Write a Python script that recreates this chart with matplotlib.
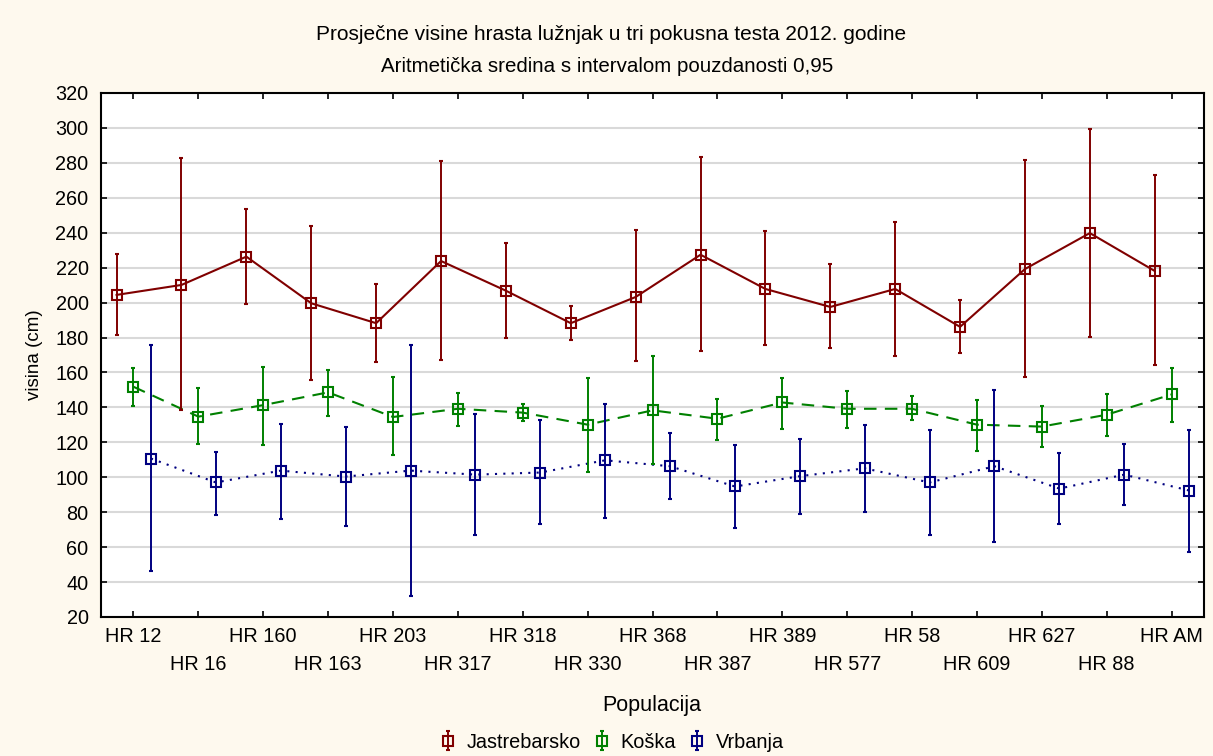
import matplotlib
matplotlib.use("Agg")
import matplotlib.pyplot as plt
import numpy as np

categories = ["HR 12", "HR 16", "HR 160", "HR 163", "HR 203", "HR 317", "HR 318", "HR 330",
              "HR 368", "HR 387", "HR 389", "HR 577", "HR 58", "HR 609", "HR 627", "HR 88", "HR AM"]

jas_mean = [204.4, 210.1, 226.3, 199.6, 188.2, 223.8, 206.8, 188.2, 203.2, 227.4, 207.8, 197.5, 207.8, 186.1, 219.2, 239.8, 218.1]
jas_hi   = [227.6, 282.7, 253.5, 244.0, 210.7, 281.1, 234.1, 198.3, 241.5, 283.2, 240.8, 222.3, 246.1, 201.7, 281.7, 299.6, 273.0]
jas_lo   = [181.5, 138.7, 199.0, 155.4, 166.0, 167.0, 179.6, 178.3, 166.3, 172.0, 176.0, 173.9, 169.7, 171.4, 157.5, 180.2, 164.0]

kos_mean = [151.8, 134.7, 141.3, 148.6, 134.5, 139.2, 137.0, 130.1, 138.3, 133.5, 142.8, 139.2, 139.2, 130.1, 129.0, 135.8, 147.4]
kos_hi   = [162.5, 151.0, 163.2, 161.3, 157.5, 148.4, 141.9, 156.8, 169.7, 144.6, 157.1, 149.5, 146.3, 144.0, 140.8, 147.8, 162.3]
kos_lo   = [141.0, 119.2, 118.7, 134.8, 112.6, 129.3, 132.4, 102.8, 107.4, 121.5, 127.8, 128.0, 132.6, 115.0, 117.1, 123.6, 131.4]

vrb_mean = [110.7, 97.0, 103.8, 100.4, 103.8, 101.5, 102.7, 109.7, 106.3, 94.7, 100.6, 105.1, 97.0, 106.3, 93.5, 101.5, 92.4]
vrb_hi   = [175.8, 114.5, 130.7, 128.9, 175.8, 136.4, 132.8, 141.9, 125.3, 118.3, 121.7, 129.7, 127.0, 149.7, 113.7, 118.9, 126.8]
vrb_lo   = [46.3, 78.5, 76.0, 72.0, 31.8, 66.8, 73.3, 76.8, 87.4, 71.0, 79.2, 80.0, 67.0, 62.8, 73.1, 84.2, 57.1]

series = [
    ("Jastrebarsko", jas_mean, jas_lo, jas_hi, "#800000", "-", -0.26),
    ("Koška", kos_mean, kos_lo, kos_hi, "#008000", (0, (6, 4)), 0.0),
    ("Vrbanja", vrb_mean, vrb_lo, vrb_hi, "#000080", (0, (1, 3)), 0.27),
]

plt.rcParams["font.family"] = ["Liberation Sans", "DejaVu Sans"]

bg = "#FEF9EE"
fig = plt.figure(figsize=(12.13, 7.56), dpi=100, facecolor=bg)
ax = fig.add_axes([0.0833, 0.1839, 0.9093, 0.6931])
ax.set_facecolor("white")

x = np.arange(len(categories))
for name, m, lo, hi, col, ls, off in series:
    m = np.array(m); lo = np.array(lo); hi = np.array(hi)
    ax.errorbar(x + off, m, yerr=[m - lo, hi - m], fmt="s", color=col,
                ecolor=col, elinewidth=1.4, capsize=1.6, capthick=1.2,
                markersize=6.5, markerfacecolor="none", markeredgewidth=1.5,
                label=name, zorder=3)
    ax.plot(x + off, m, color=col, linestyle=ls, linewidth=1.5, zorder=2)

ax.set_xlim(-0.5, 16.5)
ax.set_ylim(20, 320)
ax.set_yticks(np.arange(20, 321, 20))
ax.yaxis.grid(True, color="#d9d9d9", linewidth=1.5)
ax.set_axisbelow(True)
ax.set_xticks(x)
labels = [c if i % 2 == 0 else "\n" + c for i, c in enumerate(categories)]
ax.set_xticklabels(labels, fontsize=14.3, linespacing=1.62)
for t in ax.get_yticklabels():
    t.set_fontsize(14.3)
ax.tick_params(direction="in", top=True, right=True, length=4, width=1.2, color="black")
ax.tick_params(axis="x", pad=7)
ax.tick_params(axis="y", pad=9)
for s in ax.spines.values():
    s.set_linewidth(1.5)
    s.set_color("black")

ax.set_ylabel("visina (cm)", fontsize=13.5, labelpad=9)
fig.text(652 / 1213, 1 - 705 / 756, "Populacija", ha="center", va="center", fontsize=15.5)
fig.text(611 / 1213, 1 - 35 / 756, "Prosječne visine hrasta lužnjak u tri pokusna testa 2012. godine",
         ha="center", va="center", fontsize=15)
fig.text(607.5 / 1213, 1 - 67 / 756, "Aritmetička sredina s intervalom pouzdanosti 0,95",
         ha="center", va="center", fontsize=14.8)

leg = fig.legend(loc="center", bbox_to_anchor=(611 / 1213, 1 - 742 / 756), ncol=3, frameon=False,
                 handlelength=1.0, handletextpad=0.45, columnspacing=0.55,
                 prop={"size": 14.3})

fig.savefig("out.png", dpi=100, facecolor=bg)
